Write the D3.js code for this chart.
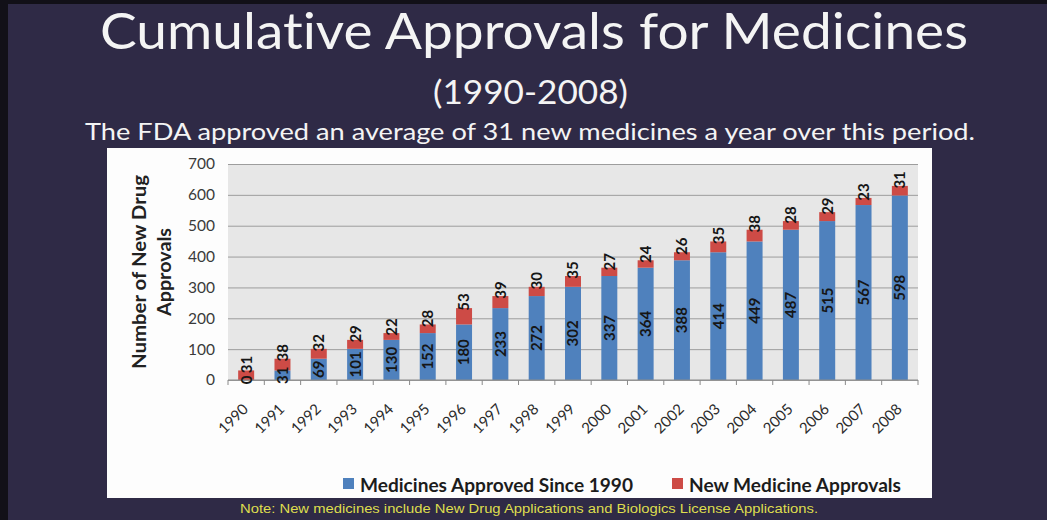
<!DOCTYPE html>
<meta charset="utf-8">
<style>
  html, body { margin: 0; padding: 0; background: #2e2945; }
  svg { display: block; }
</style>
<body>
<script src="https://cdn.jsdelivr.net/npm/d3@7"></script>
<script>

    var width = 1047,
        height = 520;

    // values
    var years = ["1990", "1991", "1992", "1993", "1994", "1995", "1996", "1997", "1998", "1999",
                 "2000", "2001", "2002", "2003", "2004", "2005", "2006", "2007", "2008"];
    var approvedSince1990 = [0, 31, 69, 101, 130, 152, 180, 233, 272, 302,
                             337, 364, 388, 414, 449, 487, 515, 567, 598];
    var newApprovals = [31, 38, 32, 29, 22, 28, 53, 39, 30, 35,
                        27, 24, 26, 35, 38, 28, 29, 23, 31];
    var yTicks = [0, 100, 200, 300, 400, 500, 600, 700];
    var seriesNames = ["Medicines Approved Since 1990", "New Medicine Approvals"];

    var blue = "#4f81bd",
        red = "#cd4b46";

    var svg = d3.select("body").append("svg")
            .attr("width", width)
            .attr("height", height);

    // slide background + dark frame on the top/left
    svg.append("rect").attr("width", width).attr("height", height).attr("fill", "#2f2a46");
    svg.append("rect").attr("width", 8).attr("height", height).attr("fill", "#121018");
    svg.append("rect").attr("width", width).attr("height", 4).attr("fill", "#121018");

    // titles (no ligatures: Lato would draw a "ti" glyph)
    function title(xPos, yPos, len, size, str) {
        svg.append("text")
                .attr("x", xPos).attr("y", yPos)
                .attr("textLength", len).attr("lengthAdjust", "spacingAndGlyphs")
                .style("font", size + "px Lato, 'Open Sans', sans-serif")
                .style("font-variant-ligatures", "none")
                .style("font-feature-settings", "'liga' 0, 'dlig' 0, 'clig' 0")
                .attr("fill", "#f4f4f4")
                .text(str);
    }
    title(100, 49, 868, 50, "Cumulative Approvals for Medicines");
    title(433, 104, 195, 33, "(1990-2008)");
    title(85, 140, 890, 24, "The FDA approved an average of 31 new medicines a year over this period.");

    // white chart panel
    svg.append("rect")
            .attr("x", 107).attr("y", 148)
            .attr("width", 825).attr("height", 350)
            .attr("fill", "#fdfdfd");

    var plot = {left: 228, right: 918, top: 164, bottom: 380};

    var x = d3.scaleBand()
            .domain(years)
            .range([plot.left, plot.right])
            .paddingInner(0.56)
            .paddingOuter(0.28);

    var y = d3.scaleLinear()
            .domain([0, 700])
            .range([plot.bottom, plot.top]);

    svg.append("rect")
            .attr("x", plot.left).attr("y", plot.top)
            .attr("width", plot.right - plot.left).attr("height", plot.bottom - plot.top)
            .attr("fill", "#e7e7e7");

    // gridlines and y labels
    var yAxis = svg.append("g")
            .attr("transform", "translate(" + plot.left + ",0)")
            .call(d3.axisLeft(y).tickValues(yTicks).tickSize(-(plot.right - plot.left)).tickPadding(13));
    yAxis.select(".domain").remove();
    yAxis.selectAll(".tick line").attr("stroke", "#9d9d9d");
    yAxis.selectAll(".tick text")
            .attr("fill", "#3a3a3a")
            .style("font", "15.5px Lato, 'Open Sans', sans-serif");

    // stacked bars
    var stacked = years.map(function (yr, i) {
        return {year: yr, base: approvedSince1990[i], add: newApprovals[i]};
    });

    var bars = svg.append("g");
    bars.selectAll(".base").data(stacked).enter().append("rect")
            .attr("x", function (d) { return x(d.year); })
            .attr("width", x.bandwidth())
            .attr("y", function (d) { return y(d.base); })
            .attr("height", function (d) { return y(0) - y(d.base); })
            .attr("fill", blue);
    bars.selectAll(".add").data(stacked).enter().append("rect")
            .attr("x", function (d) { return x(d.year); })
            .attr("width", x.bandwidth())
            .attr("y", function (d) { return y(d.base + d.add); })
            .attr("height", function (d) { return y(d.base) - y(d.base + d.add); })
            .attr("fill", red);

    // x axis line + ticks at band edges
    var xAxis = svg.append("g")
            .attr("transform", "translate(0," + plot.bottom + ")")
            .call(d3.axisBottom(x).tickSize(0).tickFormat(""));
    xAxis.select(".domain").attr("stroke", "#8a8a8a").attr("d", "M" + plot.left + ",0H" + plot.right);
    var edges = years.map(function (yr) { return x(yr) - x.step() * x.paddingInner() / 2; });
    edges.push(plot.right);
    xAxis.selectAll(".edge").data(edges).enter().append("line")
            .attr("x1", function (d) { return d; }).attr("x2", function (d) { return d; })
            .attr("y1", 0).attr("y2", 5)
            .attr("stroke", "#8a8a8a");

    // rotated year labels
    svg.append("g").selectAll("text").data(years).enter().append("text")
            .attr("transform", function (d) {
                return "translate(" + (x(d) + x.bandwidth() / 2 + 3) + ",410) rotate(-45)";
            })
            .attr("text-anchor", "end")
            .attr("fill", "#2b2b2b")
            .style("font", "15px Lato, 'Open Sans', sans-serif")
            .text(function (d) { return d; });

    // value labels
    var labelFont = "bold 15px Lato, 'Open Sans', sans-serif";
    svg.append("g").selectAll("text").data(stacked).enter().append("text")
            .attr("transform", function (d) {
                return "translate(" + (x(d.year) + x.bandwidth() / 2) + "," + y(d.base / 2) + ") rotate(-90)";
            })
            .attr("text-anchor", "middle").attr("dy", "0.36em")
            .attr("fill", "#161616")
            .style("font", labelFont)
            .text(function (d) { return d.base; });
    svg.append("g").selectAll("text").data(stacked).enter().append("text")
            .attr("transform", function (d) {
                return "translate(" + (x(d.year) + x.bandwidth() / 2) + "," + (y(d.base + d.add) - 6) + ") rotate(-90)";
            })
            .attr("text-anchor", "middle").attr("dy", "0.36em")
            .attr("fill", "#161616")
            .style("font", labelFont)
            .text(function (d) { return d.add; });

    // y axis title
    var yTitle = svg.append("text")
            .attr("transform", "translate(140," + ((plot.top + plot.bottom) / 2) + ") rotate(-90)")
            .attr("text-anchor", "middle")
            .attr("fill", "#222")
            .style("font", "bold 18px Lato, 'Open Sans', sans-serif");
    yTitle.append("tspan").attr("x", 0).attr("dy", "0.35em")
            .attr("textLength", 194).attr("lengthAdjust", "spacingAndGlyphs")
            .text("Number of New Drug");
    yTitle.append("tspan").attr("x", 0).attr("dy", "1.4em")
            .attr("textLength", 88).attr("lengthAdjust", "spacingAndGlyphs")
            .text("Approvals");

    // legend
    var legendX = [343, 672],
        legendLen = [273, 212],
        legendColors = [blue, red];
    var legend = svg.append("g").selectAll("g").data(seriesNames).enter().append("g")
            .attr("transform", function (d, i) { return "translate(" + legendX[i] + ",478)"; });
    legend.append("rect")
            .attr("width", 11).attr("height", 11)
            .attr("fill", function (d, i) { return legendColors[i]; });
    legend.append("text")
            .attr("x", 17).attr("y", 14)
            .attr("textLength", function (d, i) { return legendLen[i]; })
            .attr("lengthAdjust", "spacingAndGlyphs")
            .attr("fill", "#1c1c1c")
            .style("font", "bold 18px Lato, 'Open Sans', sans-serif")
            .text(function (d) { return d; });

    // footnote
    svg.append("text")
            .attr("x", 240).attr("y", 513)
            .attr("textLength", 578).attr("lengthAdjust", "spacingAndGlyphs")
            .attr("fill", "#dede4e")
            .style("font", "12.5px 'Liberation Sans Narrow', 'Liberation Sans', sans-serif")
            .text("Note:  New medicines include  New Drug Applications and Biologics License Applications.");

</script>
